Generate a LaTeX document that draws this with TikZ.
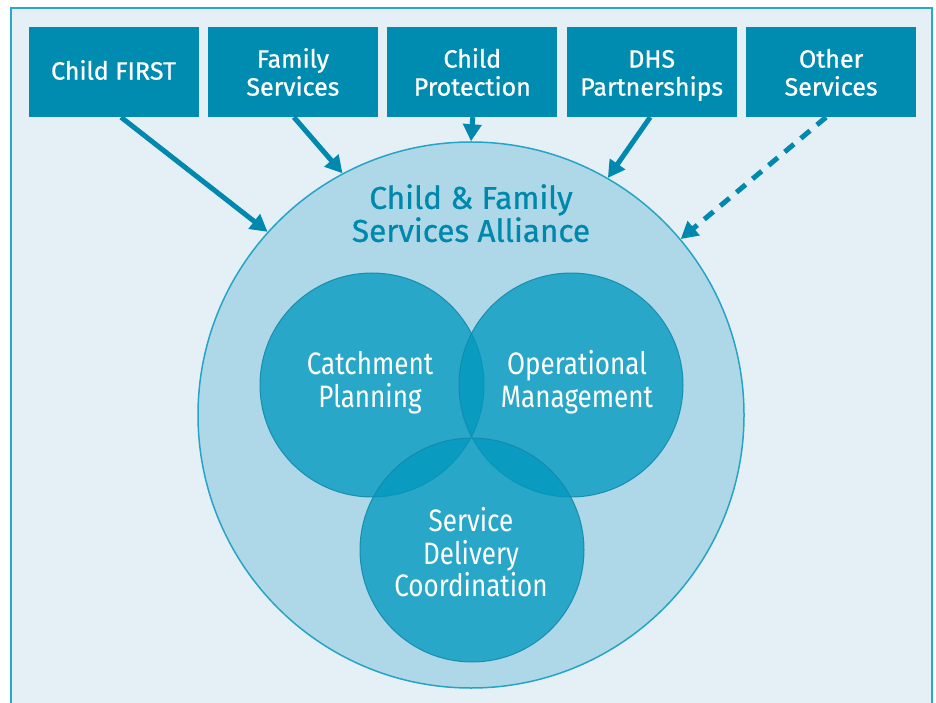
\documentclass[tikz,border=0pt]{standalone}
\usepackage{fontspec}
\setmainfont{Fira Sans}
\newfontfamily\condfont[FakeStretch=0.84]{Fira Sans}
\newfontfamily\medfont[FakeBold=0.8]{Fira Sans}
\usetikzlibrary{arrows.meta}
\newcommand{\toppad}[1]{\rule{0pt}{#1}}
\newcommand{\tightlines}{\lineskiplimit=-40pt\lineskip=0pt\relax}
\definecolor{panelfill}{RGB}{229,240,246}
\definecolor{panelline}{RGB}{42,168,201}
\definecolor{boxfill}{RGB}{0,139,176}
\definecolor{bigfill}{RGB}{174,216,232}
\definecolor{bigline}{RGB}{38,164,199}
\definecolor{innerfill}{RGB}{0,152,190}
\definecolor{innerline}{RGB}{18,138,172}
\definecolor{arrowcol}{RGB}{0,136,174}
\definecolor{titlecol}{RGB}{0,136,172}
\tikzset{
  srcbox/.style={fill=boxfill, minimum width=170pt, minimum height=90pt, inner sep=0pt,
    text=white, align=center, font=\medfont\fontsize{25}{28}\selectfont\tightlines},
  innercirc/.style={circle, minimum size=224pt, inner sep=0pt, fill=innerfill, fill opacity=0.76,
    draw=innerline, line width=1pt, draw opacity=0.9},
  innertext/.style={text=white, align=center, font=\condfont\fontsize{31}{33}\selectfont\tightlines},
  flow/.style={draw=arrowcol, line width=5pt, -{Triangle[length=17pt,width=18pt]}},
  flowdash/.style={flow, dash pattern=on 12pt off 9pt},
}
\begin{document}
\begin{tikzpicture}[x=1pt,y=1pt]
\useasboundingbox (0,0) rectangle (936,702);
\clip (0,0) rectangle (936,702);
\fill[white] (0,0) rectangle (936,702);
\draw[fill=panelfill, draw=panelline, line width=2pt] (11,-20) rectangle (932,694);
% source boxes
\node[srcbox] (b1) at (113.5,630) {\toppad{23.6pt}Child FIRST\strut};
\node[srcbox] (b2) at (292.9,630) {\toppad{27.6pt}Family\\Services\strut};
\node[srcbox] (b3) at (472.3,630) {\toppad{27.6pt}Child\\Protection\strut};
\node[srcbox] (b4) at (651.7,630) {\toppad{27.6pt}DHS\\Partnerships\strut};
\node[srcbox] (b5) at (831.1,630) {\toppad{27.6pt}Other\\Services\strut};
% alliance circle
\node[circle, minimum size=546pt, inner sep=0pt, fill=bigfill, draw=bigline, line width=1.5pt] (all) at (471,287) {};
\node[text=titlecol, align=center, font=\medfont\fontsize{31.5}{33}\selectfont\tightlines] (alltitle) at (471,484) {Child \& Family\strut\\Services Alliance\strut};
% inner circles
\node[innercirc] (cp) at (372,317) {};
\node[innercirc] (om) at (571,317) {};
\node[innercirc] (sd) at (472,152) {};
\node[innertext] (cpt) at (370,318) {Catchment\strut\\Planning\strut};
\node[innertext] (omt) at (577,318) {Operational\strut\\Management\strut};
\node[innertext, font=\condfont\fontsize{31}{32.5}\selectfont\tightlines] (sdt) at (471,145) {Service\strut\\Delivery\strut\\Coordination\strut};
% arrows
\draw[flow] ([xshift=7.5pt]b1.south) -- (all.138.4);
\draw[flow] ([xshift=1pt]b2.south) -- (all.118.7);
\draw[flow] ([xshift=0.5pt]b3.south) -- (all.90);
\draw[flow] ([xshift=-1.5pt]b4.south) -- (all.60.8);
\draw[flowdash] ([xshift=-5pt]b5.south) -- (all.40.9);
\end{tikzpicture}
\end{document}
